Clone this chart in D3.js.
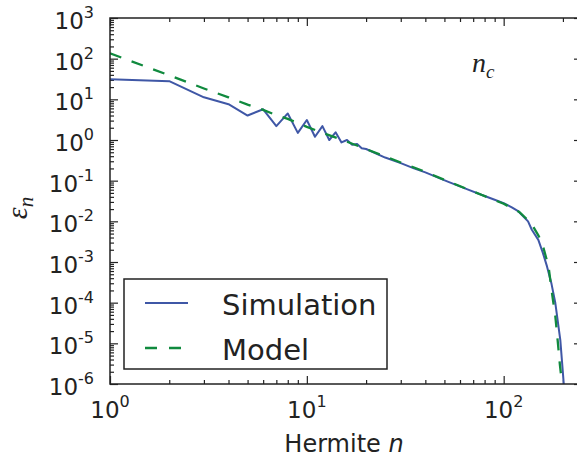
<!DOCTYPE html>
<meta charset="utf-8">
<style>
    body { margin: 0; background: #fff; }
    text { font-family: "DejaVu Sans", sans-serif; fill: #222; }
    .math { font-family: "Liberation Serif", "DejaVu Serif", serif; font-style: italic; }
</style>
<body>
<script src="https://d3js.org/d3.v7.min.js"></script>
<script>

    var width = 577,
        height = 459;

    // simulation spectrum
    var simN = [1, 2, 3, 4, 5, 6, 7, 8, 9, 10, 11, 12, 13, 14, 15, 16, 17, 18, 19, 20,
                25, 30, 35, 40, 52, 65, 77, 90, 100, 110, 119, 133, 139, 150, 158, 166, 175, 183, 194, 202];
    var simE = [31, 28, 11.2, 7.6, 4.0, 5.7, 2.2, 4.5, 1.5, 3.1, 1.2, 2.2, 1.0, 1.55, 0.87, 1.0, 0.76, 0.8, 0.63, 0.6,
                0.37, 0.27, 0.2, 0.16, 0.095, 0.062, 0.045, 0.034, 0.028, 0.022, 0.0175, 0.01, 0.0062, 0.0035, 0.0017, 7.8e-4, 2.9e-4, 9.8e-5, 1.2e-5, 1e-6];

    // model curve
    var modelN = [1, 2, 3, 4, 5, 6, 7, 8, 10, 12, 15, 20, 30, 40, 52, 77, 100, 120, 138, 150, 156, 169, 177, 183, 188, 193, 198];
    var modelE = [135, 39, 18.5, 11.2, 7.4, 5.5, 4.1, 3.3, 2.1, 1.5, 1.02, 0.6, 0.28, 0.165, 0.097, 0.045, 0.027, 0.017, 0.009, 0.0045, 3.2e-3, 7.8e-4, 1.4e-4, 4.6e-5, 1.2e-5, 3e-6, 1e-6];

    var xMajor = [1, 10, 100];
    var yMajor = [1e-6, 1e-5, 1e-4, 1e-3, 1e-2, 1e-1, 1, 10, 100, 1000];
    var legendNames = ["Simulation", "Model"];
    var colors = ["#3f57a6", "#108a3e"];

    var pL = 110, pR = 582, pT = 18, pB = 384;

    var x = d3.scaleLog().domain([1, 250]).range([pL, pR]);
    var y = d3.scaleLog().domain([1e-6, 1e3]).range([pB, pT]);

    var svg = d3.select("body").append("svg")
        .attr("width", width)
        .attr("height", height);

    svg.append("clipPath").attr("id", "plot")
        .append("rect")
        .attr("x", pL).attr("y", pT)
        .attr("width", pR - pL).attr("height", pB - pT);

    function isMajor(v) {
        var e = Math.log10(v);
        return Math.abs(e - Math.round(e)) < 1e-9;
    }

    var xMinor = x.ticks().filter(function(v) { return !isMajor(v); });
    var yMinor = y.ticks().filter(function(v) { return !isMajor(v); });

    // ticks point inward on all four sides
    function drawTicks(axisFn, scale, vals, size, pos) {
        var g = svg.append("g")
            .attr("transform", pos)
            .call(axisFn(scale).tickValues(vals).tickSize(size).tickFormat(""));
        g.select(".domain").remove();
        g.selectAll(".tick line").attr("stroke", "#222").attr("stroke-width", 1.2);
    }

    drawTicks(d3.axisBottom, x, xMajor, -8, "translate(0," + pB + ")");
    drawTicks(d3.axisBottom, x, xMinor, -4, "translate(0," + pB + ")");
    drawTicks(d3.axisTop, x, xMajor, -8, "translate(0," + pT + ")");
    drawTicks(d3.axisTop, x, xMinor, -4, "translate(0," + pT + ")");
    drawTicks(d3.axisLeft, y, yMajor, -8, "translate(" + pL + ",0)");
    drawTicks(d3.axisLeft, y, yMinor, -4, "translate(" + pL + ",0)");
    drawTicks(d3.axisRight, y, yMajor, -8, "translate(" + pR + ",0)");
    drawTicks(d3.axisRight, y, yMinor, -4, "translate(" + pR + ",0)");

    var line = d3.line()
        .x(function(d) { return x(d[0]); })
        .y(function(d) { return y(d[1]); });

    var sim = d3.zip(simN, simE),
        model = d3.zip(modelN, modelE);

    svg.append("path")
        .datum(sim)
        .attr("clip-path", "url(#plot)")
        .attr("fill", "none")
        .attr("stroke", colors[0])
        .attr("stroke-width", 2)
        .attr("stroke-linejoin", "round")
        .attr("d", line);

    svg.append("path")
        .datum(model)
        .attr("clip-path", "url(#plot)")
        .attr("fill", "none")
        .attr("stroke", colors[1])
        .attr("stroke-width", 2.3)
        .attr("stroke-dasharray", "12,11")
        .attr("d", line);

    // frame
    svg.append("rect")
        .attr("x", pL).attr("y", pT)
        .attr("width", pR - pL).attr("height", pB - pT)
        .attr("fill", "none")
        .attr("stroke", "#222")
        .attr("stroke-width", 1.5);

    // tick labels 10^k
    function powLabel(sel, v) {
        var e = Math.round(Math.log10(v));
        sel.append("tspan").text("10");
        sel.append("tspan").attr("dy", -11).attr("font-size", 16).text(e);
    }

    svg.selectAll(".xlab").data(xMajor).enter().append("text")
        .attr("class", "xlab")
        .attr("x", function(d) { return x(d); })
        .attr("y", 418)
        .attr("text-anchor", "middle")
        .attr("font-size", 23)
        .each(function(d) { powLabel(d3.select(this), d); });

    svg.selectAll(".ylab").data(yMajor).enter().append("text")
        .attr("class", "ylab")
        .attr("x", 94)
        .attr("y", function(d) { return y(d) + 11; })
        .attr("text-anchor", "end")
        .attr("font-size", 23)
        .each(function(d) { powLabel(d3.select(this), d); });

    // axis titles
    var xt = svg.append("text")
        .attr("x", 344).attr("y", 452)
        .attr("text-anchor", "middle")
        .attr("font-size", 24);
    xt.append("tspan").text("Hermite ");
    xt.append("tspan").attr("font-style", "oblique").text("n");

    var yt = svg.append("text")
        .attr("class", "math")
        .attr("transform", "translate(27,208) rotate(-90)")
        .attr("text-anchor", "middle")
        .attr("font-size", 30);
    yt.append("tspan").text("ε");
    yt.append("tspan").attr("dy", 6).attr("font-size", 21).text("n");

    var nc = svg.append("text")
        .attr("class", "math")
        .attr("x", 472).attr("y", 72)
        .attr("font-size", 28);
    nc.append("tspan").text("n");
    nc.append("tspan").attr("dy", 6).attr("font-size", 19).text("c");

    // legend
    var leg = svg.append("g");
    leg.append("rect")
        .attr("x", 124).attr("y", 279)
        .attr("width", 263).attr("height", 90)
        .attr("fill", "#fff")
        .attr("stroke", "#222")
        .attr("stroke-width", 1.5);

    legendNames.forEach(function(name, i) {
        var ly = 303 + i * 45;
        leg.append("line")
            .attr("x1", 145).attr("x2", 188)
            .attr("y1", ly).attr("y2", ly)
            .attr("stroke", colors[i])
            .attr("stroke-width", i ? 2.3 : 2)
            .attr("stroke-dasharray", i ? "12,12" : null);
        leg.append("text")
            .attr("x", 222).attr("y", ly + 12)
            .attr("font-size", 29)
            .text(name);
    });

</script>
